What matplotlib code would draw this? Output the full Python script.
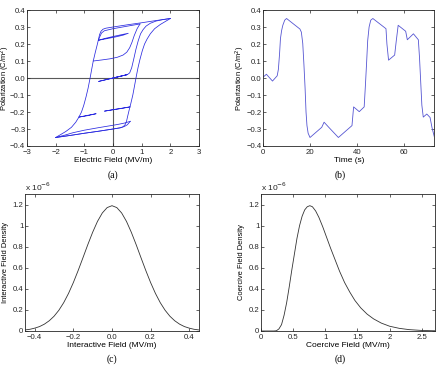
import matplotlib
matplotlib.use("Agg")
import matplotlib.pyplot as plt
import numpy as np

plt.rcParams['font.family'] = ['Liberation Sans', 'DejaVu Sans']

# ---- (a) hysteresis branches, in the order they are travelled
virgin_E = [0.0, 0.5, -0.5, 0.5, 0.58, 0.65, 0.72, 0.8, 0.88, 0.96, 1.05, 1.15, 1.3, 1.5, 1.75, 2.0]
virgin_P = [0.0, 0.02, -0.02, 0.02, 0.03, 0.06, 0.11, 0.17, 0.22, 0.26, 0.285, 0.305, 0.322, 0.335, 0.344, 0.35]

desc_E = [2.0, 1.5, 1.0, 0.5, 0.0, -0.25, -0.35, -0.42, -0.47, -0.51, -0.56, -0.62, -0.69, -0.74,
          -0.8, -0.87, -0.94, -1.02, -1.1, -1.19, -1.3, -1.45, -1.65, -1.85, -2.0]
desc_P = [0.35, 0.338, 0.325, 0.313, 0.30, 0.293, 0.287, 0.275, 0.255, 0.225, 0.19, 0.15, 0.10, 0.055,
          0.0, -0.06, -0.11, -0.16, -0.20, -0.23, -0.26, -0.29, -0.315, -0.335, -0.35]

asc_E = [-2.0, -1.5, -1.0, -0.5, 0.0, 0.25, 0.35, 0.42, 0.47, 0.51, 0.56, 0.62, 0.69, 0.74,
         0.8, 0.87, 0.94, 1.02, 1.1, 1.19, 1.3, 1.45, 1.65, 1.85, 2.0]
asc_P = [-0.35, -0.338, -0.325, -0.313, -0.30, -0.293, -0.287, -0.275, -0.255, -0.225, -0.19, -0.15, -0.10, -0.055,
         0.0, 0.06, 0.11, 0.16, 0.20, 0.23, 0.26, 0.29, 0.315, 0.335, 0.35]

# minor loops
low_up_E = [-2.0, -1.5, -1.0, -0.5, 0.0, 0.25, 0.4, 0.5, 0.6]
low_up_P = [-0.35, -0.338, -0.325, -0.313, -0.30, -0.293, -0.285, -0.275, -0.255]
low_dn_E = [0.6, 0.4, 0.2, 0.0, -0.5, -1.0, -1.4, -1.7, -2.0]
low_dn_P = [-0.255, -0.265, -0.272, -0.278, -0.292, -0.307, -0.322, -0.337, -0.35]

seg1_E = [0.59, 0.3, 0.0, -0.3, 0.0, 0.3, 0.59]
seg1_P = [-0.17, -0.178, -0.186, -0.195, -0.187, -0.179, -0.17]

up2_E = [-0.69, -0.4, -0.1, 0.15, 0.35, 0.48, 0.58, 0.66, 0.74, 0.84, 0.94]
up2_P = [0.10, 0.106, 0.113, 0.122, 0.135, 0.152, 0.178, 0.21, 0.25, 0.29, 0.318]
dn2_E = [0.94, 0.5, 0.0, -0.3, -0.4, -0.47, -0.51]
dn2_P = [0.318, 0.305, 0.29, 0.278, 0.265, 0.24, 0.222]

seg2_E = [-0.51, -0.2, 0.1, 0.35, 0.53, 0.3, 0.0, -0.3, -0.51]
seg2_P = [0.222, 0.232, 0.242, 0.252, 0.263, 0.255, 0.244, 0.232, 0.222]

seg3_E = [-1.19, -0.9, -0.59, -0.9, -1.19]
seg3_P = [-0.23, -0.22, -0.21, -0.222, -0.23]

# ---- (b) polarization versus time
time_s = [0.0, 1.4, 4.0, 6.0, 6.5, 7.0, 7.4, 7.9, 8.4, 9.2, 10.0, 15.7, 16.3, 16.9, 17.4, 17.9, 18.3,
          18.7, 19.2, 20.0, 25.0, 26.0, 28.0, 32.1, 37.9, 38.6, 41.0, 43.1, 43.6, 44.1, 44.6, 45.2,
          45.9, 46.8, 52.4, 52.8, 53.5, 56.1, 56.8, 57.6, 60.8, 61.5, 64.1, 66.2, 66.7, 67.2, 67.7,
          68.3, 69.8, 71.2, 72.0, 73.0]
pol_t = [0.005, 0.022, -0.018, 0.013, 0.05, 0.14, 0.233, 0.28, 0.31, 0.34, 0.35, 0.288, 0.27, 0.204,
         0.08, -0.06, -0.2, -0.28, -0.325, -0.35, -0.29, -0.26, -0.29, -0.35, -0.28, -0.17, -0.198,
         -0.17, -0.05, 0.08, 0.22, 0.3, 0.34, 0.35, 0.29, 0.2, 0.105, 0.135, 0.22, 0.31, 0.275, 0.225,
         0.26, 0.225, 0.12, -0.02, -0.16, -0.23, -0.212, -0.232, -0.29, -0.345]

# ---- (c) interactive field density (x 1e-6)
inter_x = [-0.45, -0.425, -0.4, -0.375, -0.35, -0.325, -0.3, -0.275, -0.25, -0.225, -0.2, -0.175, -0.15,
           -0.125, -0.1, -0.075, -0.05, -0.025, 0.0, 0.025, 0.05, 0.075, 0.1, 0.125, 0.15, 0.175, 0.2,
           0.225, 0.25, 0.275, 0.3, 0.325, 0.35, 0.375, 0.4, 0.425, 0.45]
inter_d = [0.010, 0.016, 0.027, 0.042, 0.065, 0.097, 0.140, 0.197, 0.269, 0.357, 0.460, 0.575, 0.697,
           0.821, 0.938, 1.041, 1.121, 1.172, 1.190, 1.172, 1.121, 1.041, 0.938, 0.821, 0.697, 0.575, 0.460,
           0.357, 0.269, 0.197, 0.140, 0.097, 0.065, 0.042, 0.027, 0.016, 0.010]

# ---- (d) coercive field density (x 1e-6)
coer_x = [0.0, 0.2, 0.24, 0.28, 0.32, 0.36, 0.40, 0.44, 0.48, 0.52, 0.56, 0.60, 0.64, 0.68, 0.72, 0.76,
          0.80, 0.85, 0.90, 0.96, 1.02, 1.08, 1.15, 1.22, 1.30, 1.38, 1.46, 1.55, 1.65, 1.75, 1.87,
          2.0, 2.15, 2.3, 2.5, 2.7]
coer_d = [0.0, 0.0, 0.002, 0.02, 0.06, 0.15, 0.27, 0.42, 0.58, 0.73, 0.88, 1.0, 1.09, 1.15, 1.18, 1.19,
          1.18, 1.14, 1.08, 0.99, 0.89, 0.79, 0.68, 0.57, 0.46, 0.37, 0.29, 0.22, 0.16, 0.115, 0.075,
          0.045, 0.025, 0.013, 0.005, 0.002]

density_ticks = ["0", "0.2", "0.4", "0.6", "0.8", "1", "1.2"]

FS = 6.0    # axis labels
TFS = 5.6   # tick labels
LFS = 5.4   # y labels
blue_a = "#2a2ae0"
blue_b = "#5555d2"

fig = plt.figure(figsize=(4.4, 3.65), dpi=100)
axa = fig.add_axes([0.0614, 0.600, 0.391, 0.3726])
axb = fig.add_axes([0.598, 0.600, 0.389, 0.3726])
axc = fig.add_axes([0.057, 0.0932, 0.395, 0.375])
axd = fig.add_axes([0.593, 0.0932, 0.395, 0.375])


def style(ax, ylab_x):
    ax.tick_params(direction="in", top=True, right=True, length=2.5, width=0.5,
                   labelsize=TFS, pad=2.0, colors="0.15")
    ax.tick_params(axis="y", pad=1.2)
    for s in ax.spines.values():
        s.set_linewidth(0.6)
        s.set_color("0.15")
    ax.yaxis.set_label_coords(ylab_x, 0.5)


# (a)
axa.axhline(0, color="0.35", lw=0.8, zorder=1)
axa.axvline(0, color="0.35", lw=0.8, zorder=1)
for E, P in [(virgin_E, virgin_P), (desc_E, desc_P), (asc_E, asc_P), (low_up_E, low_up_P),
             (low_dn_E, low_dn_P), (seg1_E, seg1_P), (up2_E, up2_P), (dn2_E, dn2_P),
             (seg2_E, seg2_P), (seg3_E, seg3_P)]:
    axa.plot(E, P, color=blue_a, lw=0.55, zorder=2)
axa.set_xlim(-3, 3)
axa.set_ylim(-0.4, 0.4)
axa.set_xticks(np.arange(-3, 4, 1))
axa.set_yticks(np.arange(-0.4, 0.41, 0.1))
axa.set_xlabel("Electric Field (MV/m)", fontsize=FS, labelpad=1)
axa.set_ylabel("Polarization (C/m$^2$)", fontsize=LFS, va="center")
style(axa, -0.124)

# (b)
axb.plot(time_s, pol_t, color=blue_b, lw=0.6)
axb.set_xlim(0, 73)
axb.set_ylim(-0.4, 0.4)
axb.set_xticks([0, 20, 40, 60])
axb.set_yticks(np.arange(-0.4, 0.41, 0.1))
axb.set_xlabel("Time (s)", fontsize=FS, labelpad=1)
axb.set_ylabel("Polarization (C/m$^2$)", fontsize=LFS, va="center")
style(axb, -0.132)

# (c)
axc.plot(inter_x, inter_d, color="0.2", lw=0.6)
axc.set_xlim(-0.45, 0.45)
axc.set_ylim(0, 1.3)
axc.set_xticks([-0.4, -0.2, 0, 0.2, 0.4])
axc.set_yticks(np.arange(0, 1.21, 0.2))
axc.set_yticklabels(density_ticks)
axc.set_xlabel("Interactive Field (MV/m)", fontsize=FS, labelpad=1)
axc.set_ylabel("Interactive Field Density", fontsize=LFS, va="center")
axc.text(0.0, 1.01, "x 10$^{-6}$", transform=axc.transAxes, fontsize=FS, va="bottom", color="0.15")
style(axc, -0.114)

# (d)
axd.plot(coer_x, coer_d, color="0.2", lw=0.6)
axd.set_xlim(0, 2.7)
axd.set_ylim(0, 1.3)
axd.set_xticks(np.arange(0, 2.6, 0.5))
axd.set_xticklabels(["0", "0.5", "1", "1.5", "2", "2.5"])
axd.set_yticks(np.arange(0, 1.21, 0.2))
axd.set_yticklabels(density_ticks)
axd.set_xlabel("Coercive Field (MV/m)", fontsize=FS, labelpad=1)
axd.set_ylabel("Coercive Field Density", fontsize=LFS, va="center")
axd.text(0.0, 1.01, "x 10$^{-6}$", transform=axd.transAxes, fontsize=FS, va="bottom", color="0.15")
style(axd, -0.112)

cap = dict(fontsize=7, family="Liberation Serif", ha="center", va="center")
fig.text(113 / 440, 1 - 175 / 365, "(a)", **cap)
fig.text(340 / 440, 1 - 175 / 365, "(b)", **cap)
fig.text(112 / 440, 1 - 359 / 365, "(c)", **cap)
fig.text(340 / 440, 1 - 359 / 365, "(d)", **cap)

fig.savefig("out.png", dpi=100)
